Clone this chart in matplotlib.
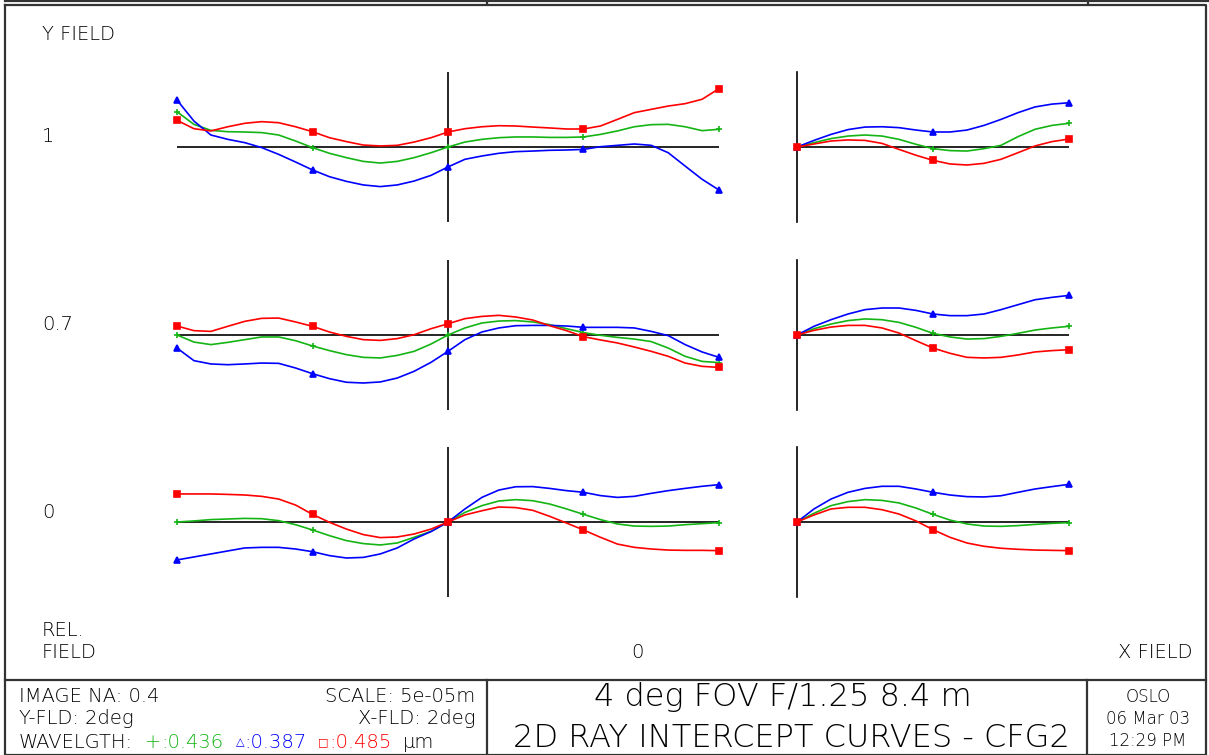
import matplotlib
matplotlib.use("Agg")
import matplotlib.pyplot as plt

W, H = 1209, 755

# relative pupil coordinates where the curves were read (steps of 1/16)
pupil_tan = [-1, -0.9375, -0.875, -0.8125, -0.75, -0.6875, -0.625, -0.5625, -0.5,
             -0.4375, -0.375, -0.3125, -0.25, -0.1875, -0.125, -0.0625, 0,
             0.0625, 0.125, 0.1875, 0.25, 0.3125, 0.375, 0.4375, 0.5,
             0.5625, 0.625, 0.6875, 0.75, 0.8125, 0.875, 0.9375, 1]
pupil_sag = [0, 0.0625, 0.125, 0.1875, 0.25, 0.3125, 0.375, 0.4375, 0.5,
             0.5625, 0.625, 0.6875, 0.75, 0.8125, 0.875, 0.9375, 1]

field_labels = ["1", "0.7", "0"]

# ray errors in micrometres (axis half length = 50 um)
# field 1.0
tan1_green = [23.5, 15.1, 11.1, 10.2, 10.0, 9.6, 8.0, 4.0, -0.4, -4.2, -7.1, -9.6, -10.7, -9.6, -7.1, -3.8, 0,
              3.3, 5.1, 6.2, 6.7, 6.7, 6.4, 6.4, 6.7, 8.4, 10.7, 13.5, 14.9, 15.1, 13.5, 10.9, 11.8]
tan1_blue = [31.3, 17.3, 8.0, 5.1, 2.9, -0.4, -4.9, -10.0, -15.3, -19.8, -22.9, -25.3, -26.4, -25.3, -22.7, -18.9, -13.3,
             -8.2, -6.0, -4.2, -3.1, -2.7, -2.2, -2.0, -1.6, 0.2, 1.1, 2.0, 1.1, -3.8, -12.7, -21.5, -28.7]
tan1_red = [17.8, 12.2, 10.7, 13.5, 15.8, 16.9, 16.2, 13.5, 10.2, 6.2, 3.6, 1.3, 0.7, 1.1, 3.3, 6.2, 10.0,
            12.2, 13.5, 14.2, 14.0, 13.3, 12.7, 12.0, 12.0, 14.0, 18.4, 22.9, 25.1, 27.3, 28.9, 31.8, 38.9]
sag1_green = [0, 2.9, 5.6, 7.3, 8.0, 7.3, 5.1, 1.8, -1.1, -2.4, -2.7, -1.1, 1.1, 6.9, 11.8, 14.4, 15.8]
sag1_blue = [0, 4.4, 8.4, 11.6, 13.3, 13.5, 12.9, 11.3, 10.0, 10.0, 11.3, 14.4, 18.4, 22.9, 26.7, 28.6, 29.5]
sag1_red = [0, 2.0, 4.0, 4.7, 4.4, 2.4, -1.6, -5.5, -8.9, -11.3, -12.0, -10.9, -8.2, -3.8, 0.7, 3.6, 5.3]

# field 0.7
tan2_green = [0, -4.7, -6.4, -4.9, -3.1, -1.3, -1.3, -3.8, -7.3, -10.4, -13.1, -14.9, -15.3, -13.6, -10.9, -6.0, 0,
              4.7, 8.0, 9.3, 9.6, 8.7, 6.9, 4.2, 1.6, -0.2, -1.6, -2.7, -4.4, -8.7, -14.2, -17.6, -18.4]
tan2_blue = [-8.7, -17.1, -19.3, -19.8, -19.3, -18.7, -18.9, -22.0, -25.8, -29.1, -31.5, -32.0, -31.3, -28.7, -24.2, -18.2, -10.9,
             -3.1, 2.0, 4.7, 6.2, 6.4, 6.4, 6.0, 5.1, 5.1, 5.1, 4.7, 2.4, -0.4, -6.4, -11.3, -14.9]
tan2_red = [6.0, 2.9, 2.4, 5.8, 9.1, 11.1, 11.3, 8.7, 5.8, 2.0, -0.9, -3.1, -3.6, -2.4, 0.2, 4.2, 7.5,
            10.9, 12.4, 13.1, 12.0, 10.0, 6.2, 2.9, -1.1, -3.3, -5.3, -8.0, -10.9, -14.2, -18.7, -20.9, -21.6]
sag2_green = [0, 4.2, 7.3, 9.6, 10.7, 10.2, 8.4, 5.1, 1.1, -1.3, -2.7, -2.4, -0.9, 1.1, 3.3, 4.7, 5.8]
sag2_blue = [0, 5.8, 10.2, 14.0, 16.9, 18.0, 18.0, 16.4, 14.0, 12.9, 12.9, 14.0, 16.9, 20.2, 23.5, 25.1, 26.4]
sag2_red = [0, 3.1, 5.3, 6.4, 6.4, 4.7, 1.3, -3.8, -8.7, -12.2, -14.9, -15.3, -14.9, -13.3, -11.3, -10.4, -9.8]

# field 0
tan3_green = [0, 0.7, 1.6, 2.0, 2.4, 2.2, 0.9, -1.8, -5.3, -9.1, -12.4, -14.4, -15.3, -14.0, -10.2, -6.2, 0,
              6.4, 10.9, 14.0, 14.9, 14.2, 12.0, 8.7, 5.1, 1.6, -1.3, -2.7, -2.9, -2.7, -1.8, -1.1, -0.4]
tan3_blue = [-25.3, -23.3, -21.3, -19.3, -17.3, -16.9, -16.9, -18.0, -19.8, -22.4, -24.0, -23.6, -21.3, -17.3, -11.3, -6.4, 0,
             8.7, 16.4, 21.3, 23.5, 23.6, 22.4, 20.9, 19.8, 17.6, 16.4, 17.1, 19.1, 20.9, 22.4, 23.8, 24.9]
tan3_red = [18.7, 18.7, 18.7, 18.4, 18.0, 17.1, 15.3, 11.3, 5.1, -0.2, -4.7, -8.4, -10.4, -10.0, -8.0, -4.7, 0,
            4.7, 7.5, 10.0, 9.6, 7.8, 3.8, -0.7, -5.3, -10.2, -14.7, -16.9, -18.0, -18.7, -18.9, -18.9, -19.1]
sag3_green = [0, 5.8, 10.9, 13.6, 14.9, 14.4, 12.7, 9.3, 5.1, 1.3, -1.3, -2.7, -2.9, -2.4, -1.6, -0.9, -0.4]
sag3_blue = [0, 8.7, 15.3, 19.8, 22.4, 23.8, 23.8, 22.0, 19.8, 18.0, 16.9, 16.7, 17.5, 19.8, 22.0, 23.6, 25.1]
sag3_red = [0, 4.7, 8.7, 9.8, 9.8, 8.2, 5.3, 0.7, -5.1, -10.2, -14.0, -16.2, -17.5, -18.2, -18.7, -18.9, -19.1]

wavelengths = [0.436, 0.387, 0.485]
colors = ["#14b414", "#0000ff", "#ff0000"]
markers = ["+", "^", "s"]

tan_rows = [[tan1_green, tan1_blue, tan1_red],
            [tan2_green, tan2_blue, tan2_red],
            [tan3_green, tan3_blue, tan3_red]]
sag_rows = [[sag1_green, sag1_blue, sag1_red],
            [sag2_green, sag2_blue, sag2_red],
            [sag3_green, sag3_blue, sag3_red]]

plt.rcParams["font.family"] = ["DejaVu Sans"]
plt.rcParams["font.weight"] = "light"
fig = plt.figure(figsize=(W / 100, H / 100), dpi=100)

# background axes in pixel units for frame and text
bg = fig.add_axes([0, 0, 1, 1])
bg.set_xlim(0, W)
bg.set_ylim(H, 0)
bg.axis("off")

frame = dict(color="#333333", lw=1.6)
bg.plot([5, W - 1], [1, 1], **frame)
bg.plot([487, 487], [0, 4], **frame)
bg.plot([1088, 1088], [0, 4], **frame)
bg.plot([5, W - 3, W - 3, 5, 5], [5, 5, H, H, 5], **frame)
bg.plot([5, W - 3], [680, 680], **frame)
bg.plot([487, 487], [680, H], **frame)
bg.plot([1087, 1087], [680, H], **frame)

fs = 14
bg.text(42, 35, "Y FIELD", fontsize=fs, va="center")
bg.text(42, 631, "REL.", fontsize=fs, va="center")
bg.text(42, 653, "FIELD", fontsize=fs, va="center")
bg.text(637, 653, "0", fontsize=fs, va="center", ha="center")
bg.text(1192, 653, "X FIELD", fontsize=fs, va="center", ha="right")

baselines = [147, 335, 522]
half = 75
for lab, yb in zip(field_labels, baselines):
    bg.text(42, yb - 10, lab, fontsize=fs, va="center")


def axes_rect(x0, x1, yb):
    return [x0 / W, (H - yb - half) / H, (x1 - x0) / W, 2 * half / H]


for r, yb in enumerate(baselines):
    at = fig.add_axes(axes_rect(177, 719, yb))
    at.set_xlim(-1, 1)
    at.set_ylim(-50, 50)
    at.axis("off")
    at.axhline(0, color="black", lw=1.2, zorder=1)
    at.axvline(0, color="black", lw=1.2, zorder=1)
    for vals, c, m in zip(tan_rows[r], colors, markers):
        at.plot(pupil_tan, vals, color=c, lw=1.2, marker=m, markevery=8,
                markersize=4, mew=1.2, clip_on=False, zorder=3)

    asg = fig.add_axes(axes_rect(797, 1069, yb))
    asg.set_xlim(0, 1)
    asg.set_ylim(-50, 50)
    asg.axis("off")
    asg.axhline(0, color="black", lw=1.2, zorder=1)
    asg.axvline(0, color="black", lw=1.2, zorder=1, clip_on=False)
    for vals, c, m in zip(sag_rows[r], colors, markers):
        asg.plot(pupil_sag, vals, color=c, lw=1.2, marker=m, markevery=8,
                 markersize=4, mew=1.2, clip_on=False, zorder=3)

# info block
bg.text(19, 697, "IMAGE NA: 0.4", fontsize=fs, va="center")
bg.text(19, 719, "Y-FLD: 2deg", fontsize=fs, va="center")
bg.text(475, 697, "SCALE: 5e-05m", fontsize=fs, va="center", ha="right")
bg.text(475, 719, "X-FLD: 2deg", fontsize=fs, va="center", ha="right")

renderer = fig.canvas.get_renderer()
t = bg.text(19, 742, "WAVELGTH:", fontsize=fs, va="center")
x = 19 + t.get_window_extent(renderer).width + 12
sym = ["+", "\u25b3", "\u25a1"]
for s, w, c in zip(sym, wavelengths, colors):
    if s == "+":
        t = bg.text(x, 742, s, fontsize=fs, va="center", color=c)
    else:
        # the light face has no geometric shapes, use the regular face
        t = bg.text(x, 742, s, fontsize=8, va="center", color=c,
                    fontweight="normal")
    x += t.get_window_extent(renderer).width
    t = bg.text(x, 742, ":%.3f" % w, fontsize=fs, va="center", color=c)
    x += t.get_window_extent(renderer).width + 12
bg.text(x, 742, "\u00b5m", fontsize=fs, va="center")

bg.text(783, 697, "4 deg FOV F/1.25 8.4 m", fontsize=23, va="center", ha="center")
bg.text(791, 738, "2D RAY INTERCEPT CURVES - CFG2", fontsize=23, va="center", ha="center")

bg.text(1148, 697, "OSLO", fontsize=12, va="center", ha="center")
bg.text(1148, 719, "06 Mar 03", fontsize=12, va="center", ha="center")
bg.text(1148, 741, "12:29 PM", fontsize=12, va="center", ha="center")

fig.savefig("out.png", dpi=100)
